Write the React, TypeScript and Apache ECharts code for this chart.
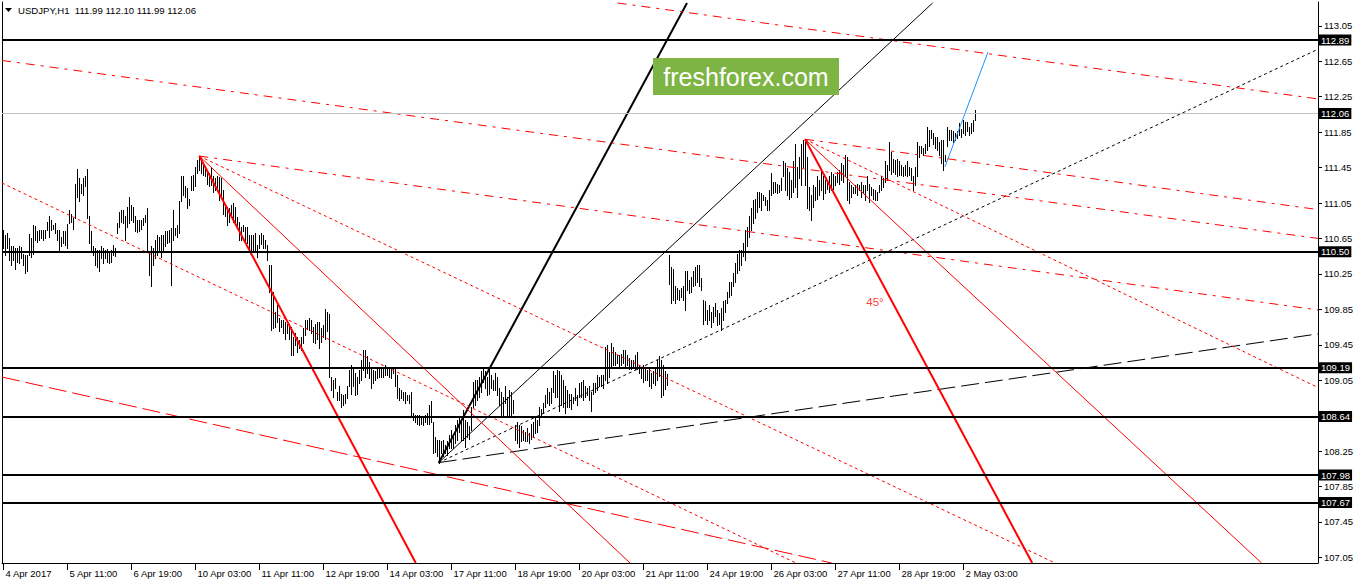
import React, { useEffect, useRef } from "react";
import * as echarts from "echarts";

const FONT = '"Liberation Sans", Arial, sans-serif';

// ---- time axis (bar index -> label) ----
const timeTickBars = [0, 32, 64, 96, 128, 160, 192, 224, 256, 288, 320, 352, 384, 416, 448, 480];
const timeTickLabels = [
  "4 Apr 2017", "5 Apr 11:00", "6 Apr 19:00", "10 Apr 03:00", "11 Apr 11:00", "12 Apr 19:00",
  "14 Apr 03:00", "17 Apr 11:00", "18 Apr 19:00", "20 Apr 03:00", "21 Apr 11:00", "24 Apr 19:00",
  "26 Apr 03:00", "27 Apr 11:00", "28 Apr 19:00", "2 May 03:00",
];

// ---- price axis ----
const priceTicks = [113.05, 112.65, 112.25, 111.85, 111.45, 111.05, 110.65, 110.25, 109.85, 109.45, 109.05, 108.25, 107.85, 107.45, 107.05];
const priceMin = 106.987;
const priceMax = 113.319;
const barMin = -0.75;
const barMax = 657.25;

// ---- horizontal levels ----
const levelPrices = [112.89, 110.5, 109.19, 108.64, 107.98, 107.67];
const bidPrice = 112.06;

// ---- USDJPY H1 bars (high / low), bar index = hour count from 4 Apr 03:00 ----
const highs = [
  110.75, 110.69, 110.71, 110.65, 110.56, 110.56, 110.54, 110.54, 110.56, 110.55,
  110.48, 110.46, 110.46, 110.70, 110.65, 110.80, 110.79, 110.73, 110.75, 110.74,
  110.75, 110.75, 110.84, 110.90, 110.86, 110.80, 110.82, 110.75, 110.75, 110.67,
  110.73, 110.73, 110.81, 110.97, 110.93, 110.88, 111.27, 111.43, 111.33, 111.27,
  111.33, 111.35, 111.43, 110.90, 110.73, 110.56, 110.54, 110.52, 110.52, 110.56,
  110.54, 110.52, 110.53, 110.50, 110.52, 110.58, 110.54, 110.82, 110.95, 110.97,
  110.97, 110.90, 111.01, 111.12, 111.03, 111.01, 110.90, 110.86, 110.86, 110.86,
  110.88, 110.91, 110.99, 110.50, 110.56, 110.54, 110.63, 110.69, 110.67, 110.69,
  110.69, 110.73, 110.73, 110.75, 110.77, 110.97, 110.77, 110.80, 111.07, 111.35,
  111.36, 111.24, 111.22, 111.10, 111.35, 111.37, 111.46, 111.54, 111.58, 111.55,
  111.50, 111.47, 111.42, 111.39, 111.44, 111.35, 111.33, 111.35, 111.34, 111.33,
  111.20, 111.03, 111.01, 110.99, 111.03, 111.05, 111.01, 110.89, 110.84, 110.78,
  110.80, 110.78, 110.78, 110.69, 110.69, 110.69, 110.71, 110.58, 110.69, 110.71,
  110.69, 110.63, 110.58, 110.35, 110.35, 110.05, 109.82, 109.90, 109.75, 109.73,
  109.73, 109.71, 109.69, 109.67, 109.65, 109.54, 109.58, 109.54, 109.50, 109.54,
  109.64, 109.73, 109.73, 109.75, 109.73, 109.65, 109.69, 109.71, 109.71, 109.64,
  109.67, 109.85, 109.82, 109.80, 109.09, 109.05, 109.07, 108.92, 108.98, 108.90,
  108.88, 108.90, 108.98, 109.17, 109.22, 109.18, 109.13, 109.09, 109.17, 109.28,
  109.39, 109.39, 109.32, 109.26, 109.20, 109.17, 109.15, 109.18, 109.18, 109.20,
  109.18, 109.22, 109.18, 109.20, 109.18, 109.20, 109.18, 109.11, 108.96, 108.94,
  108.92, 108.92, 108.88, 108.88, 108.92, 108.68, 108.66, 108.66, 108.66, 108.64,
  108.64, 108.66, 108.68, 108.77, 108.81, 108.58, 108.41, 108.38, 108.38, 108.36,
  108.38, 108.32, 108.36, 108.43, 108.49, 108.41, 108.54, 108.60, 108.64, 108.58,
  108.71, 108.60, 108.58, 108.53, 108.75, 109.03, 109.05, 109.05, 109.09, 109.15,
  109.20, 109.15, 109.09, 109.17, 109.11, 109.05, 109.13, 109.09, 108.96, 108.92,
  108.86, 108.98, 108.86, 108.94, 108.92, 108.83, 108.54, 108.58, 108.54, 108.53,
  108.49, 108.47, 108.51, 108.45, 108.56, 108.58, 108.64, 108.60, 108.75, 108.73,
  108.79, 108.88, 108.96, 108.92, 108.96, 109.15, 109.11, 109.17, 109.15, 109.11,
  109.05, 108.98, 108.94, 108.90, 108.90, 108.86, 108.96, 108.88, 109.02, 109.03,
  109.05, 108.98, 108.96, 108.98, 108.92, 109.02, 109.02, 109.11, 109.09, 109.11,
  109.11, 109.43, 109.45, 109.37, 109.47, 109.43, 109.37, 109.34, 109.34, 109.35,
  109.39, 109.39, 109.34, 109.30, 109.28, 109.28, 109.34, 109.37, 109.22, 109.20,
  109.22, 109.20, 109.17, 109.18, 109.13, 109.15, 109.20, 109.28, 109.32, 109.28,
  109.22, 109.15, 109.12, 110.46, 110.33, 110.31, 110.11, 110.09, 110.07, 110.09,
  110.11, 110.28, 110.28, 110.18, 110.22, 110.28, 110.33, 110.35, 110.35, 110.20,
  109.96, 109.94, 109.84, 109.90, 109.82, 109.88, 109.92, 109.84, 109.81, 109.86,
  109.94, 109.96, 110.05, 110.16, 110.16, 110.26, 110.37, 110.48, 110.52, 110.52,
  110.60, 110.75, 110.78, 110.90, 110.99, 111.08, 111.10, 111.18, 111.17, 111.16,
  111.14, 111.12, 111.08, 111.20, 111.39, 111.29, 111.29, 111.27, 111.25, 111.33,
  111.52, 111.50, 111.44, 111.40, 111.31, 111.52, 111.72, 111.46, 111.57, 111.72,
  111.76, 111.77, 111.57, 111.23, 111.14, 111.25, 111.23, 111.35, 111.31, 111.42,
  111.36, 111.31, 111.31, 111.36, 111.40, 111.38, 111.36, 111.40, 111.42, 111.50,
  111.48, 111.59, 111.57, 111.29, 111.25, 111.23, 111.25, 111.27, 111.25, 111.29,
  111.25, 111.25, 111.35, 111.27, 111.23, 111.21, 111.20, 111.18, 111.25, 111.35,
  111.33, 111.52, 111.48, 111.74, 111.63, 111.55, 111.54, 111.55, 111.52, 111.48,
  111.46, 111.48, 111.52, 111.46, 111.44, 111.36, 111.46, 111.74, 111.69, 111.69,
  111.67, 111.72, 111.91, 111.87, 111.87, 111.84, 111.80, 111.80, 111.74, 111.76,
  111.76, 111.59, 111.91, 111.87, 111.87, 111.86, 111.84, 111.86, 111.95, 111.89,
  111.99, 111.97, 111.97, 111.91, 111.95, 111.99, 112.10,
];
const lows = [
  110.54, 110.46, 110.54, 110.41, 110.35, 110.41, 110.31, 110.39, 110.37, 110.43,
  110.35, 110.26, 110.28, 110.46, 110.44, 110.48, 110.63, 110.61, 110.63, 110.65,
  110.63, 110.65, 110.75, 110.67, 110.75, 110.76, 110.71, 110.63, 110.52, 110.56,
  110.60, 110.58, 110.54, 110.82, 110.84, 110.76, 110.88, 111.12, 111.07, 111.16,
  111.14, 111.24, 110.88, 110.60, 110.52, 110.46, 110.35, 110.33, 110.28, 110.43,
  110.37, 110.43, 110.39, 110.37, 110.39, 110.46, 110.45, 110.71, 110.78, 110.84,
  110.82, 110.63, 110.78, 110.82, 110.86, 110.84, 110.73, 110.72, 110.73, 110.76,
  110.80, 110.84, 110.50, 110.24, 110.11, 110.35, 110.43, 110.46, 110.50, 110.44,
  110.52, 110.56, 110.60, 110.61, 110.12, 110.63, 110.69, 110.67, 110.71, 111.07,
  111.14, 111.12, 110.99, 111.03, 111.20, 111.20, 111.24, 111.39, 111.42, 111.39,
  111.37, 111.35, 111.27, 111.24, 111.25, 111.18, 111.20, 111.22, 111.08, 111.14,
  110.93, 110.90, 110.80, 110.84, 110.90, 110.84, 110.82, 110.80, 110.63, 110.63,
  110.73, 110.61, 110.60, 110.54, 110.50, 110.52, 110.52, 110.44, 110.54, 110.59,
  110.54, 110.54, 110.41, 110.05, 109.62, 109.64, 109.65, 109.71, 109.60, 109.65,
  109.58, 109.52, 109.58, 109.52, 109.33, 109.33, 109.45, 109.37, 109.41, 109.39,
  109.47, 109.56, 109.63, 109.62, 109.58, 109.48, 109.47, 109.52, 109.41, 109.48,
  109.54, 109.52, 109.60, 109.09, 108.94, 108.86, 108.96, 108.83, 108.83, 108.75,
  108.77, 108.79, 108.85, 108.98, 108.90, 108.98, 108.88, 108.90, 109.02, 109.05,
  109.17, 109.09, 109.13, 109.07, 108.96, 109.02, 109.05, 109.07, 109.09, 109.09,
  109.09, 109.11, 109.11, 109.09, 109.07, 109.13, 108.98, 108.85, 108.83, 108.85,
  108.83, 108.79, 108.83, 108.79, 108.66, 108.60, 108.58, 108.56, 108.55, 108.56,
  108.55, 108.58, 108.56, 108.56, 108.58, 108.23, 108.24, 108.19, 108.12, 108.23,
  108.19, 108.23, 108.21, 108.28, 108.28, 108.28, 108.34, 108.38, 108.47, 108.38,
  108.38, 108.30, 108.41, 108.39, 108.49, 108.75, 108.77, 108.83, 108.86, 108.92,
  109.03, 108.96, 108.88, 108.90, 108.96, 108.94, 108.94, 108.88, 108.77, 108.66,
  108.66, 108.79, 108.66, 108.64, 108.66, 108.68, 108.38, 108.34, 108.30, 108.36,
  108.38, 108.36, 108.36, 108.34, 108.39, 108.41, 108.45, 108.47, 108.54, 108.64,
  108.68, 108.75, 108.79, 108.77, 108.79, 108.92, 108.86, 108.86, 108.70, 108.77,
  108.75, 108.68, 108.75, 108.75, 108.73, 108.79, 108.83, 108.77, 108.86, 108.86,
  108.83, 108.86, 108.88, 108.83, 108.70, 108.90, 108.92, 108.94, 108.98, 108.98,
  108.96, 109.05, 109.02, 109.09, 109.20, 109.22, 109.22, 109.24, 109.20, 109.22,
  109.24, 109.20, 109.22, 109.18, 109.18, 109.20, 109.18, 109.18, 109.13, 109.07,
  109.03, 109.05, 109.05, 108.98, 108.96, 109.02, 109.00, 109.05, 109.10, 108.86,
  108.88, 108.95, 109.00, 110.14, 109.92, 109.96, 109.92, 109.97, 109.96, 109.99,
  109.96, 109.84, 110.07, 110.03, 110.05, 110.11, 110.12, 110.16, 110.11, 110.07,
  109.69, 109.73, 109.69, 109.73, 109.65, 109.71, 109.77, 109.67, 109.69, 109.62,
  109.73, 109.82, 109.92, 109.99, 110.01, 110.11, 110.16, 110.26, 110.29, 110.35,
  110.45, 110.41, 110.56, 110.67, 110.75, 110.82, 110.88, 110.95, 111.01, 110.97,
  111.08, 111.03, 110.97, 110.97, 111.14, 111.16, 111.18, 111.16, 111.18, 111.20,
  111.35, 111.20, 111.14, 111.10, 111.12, 111.18, 111.23, 111.12, 111.33, 111.25,
  111.46, 111.25, 110.99, 110.97, 110.86, 111.01, 111.08, 111.10, 111.14, 111.20,
  111.10, 111.16, 111.21, 111.18, 111.20, 111.21, 111.25, 111.29, 111.27, 111.31,
  111.29, 111.35, 111.08, 111.05, 111.12, 111.16, 111.16, 111.14, 111.20, 111.12,
  111.18, 111.08, 111.20, 111.06, 111.14, 111.10, 111.08, 111.08, 111.18, 111.20,
  111.23, 111.29, 111.31, 111.42, 111.38, 111.40, 111.38, 111.35, 111.37, 111.37,
  111.35, 111.37, 111.35, 111.37, 111.31, 111.20, 111.25, 111.35, 111.57, 111.61,
  111.59, 111.61, 111.65, 111.69, 111.78, 111.72, 111.67, 111.65, 111.59, 111.50,
  111.42, 111.52, 111.69, 111.76, 111.76, 111.74, 111.76, 111.78, 111.82, 111.80,
  111.84, 111.82, 111.86, 111.82, 111.84, 111.86, 111.99,
];

// ---- trend lines: [bar, price] end points ----
const fanLow: [number, number] = [217.6, 108.12];
const peakApr10: [number, number] = [97.9, 111.58];
const peakApr26: [number, number] = [400.75, 111.77];

const blackThick = [fanLow, [341.75, 113.308]];
const blackThin = [fanLow, [464.55, 113.308]];
const blackDotted = [fanLow, [657.25, 112.786]];
const blackDashed = [fanLow, [657.25, 109.573]];
const redThickApr10 = [peakApr10, [206.15, 106.987]];
const redThinApr10 = [peakApr10, [313.25, 106.987]];
const redDotApr10 = [peakApr10, [525.75, 106.987]];
const redDashDotApr10 = [peakApr10, [657.25, 109.843]];
const redThickApr26 = [peakApr26, [514.35, 106.987]];
const redThinApr26 = [peakApr26, [629.05, 106.987]];
const redDotApr26 = [peakApr26, [657.25, 108.967]];
const redDashDotApr26 = [peakApr26, [657.25, 110.976]];
const redDotLeft = [[-0.75, 111.276], [396.25, 106.987]];
const redDashDotUpper = [[-0.75, 112.659], [657.25, 110.651]];
const redDashDotTop = [[307.05, 113.308], [657.25, 112.225]];
const redDashLower = [[-0.75, 109.086], [414.1, 106.987]];
const blueLine = [[470.75, 111.46], [492.25, 112.755]];
const angleLabel: [number, number] = [435.75, 109.93];

const DOT = [3, 3];
const DASH = [18, 6];
const DASHDOT = [9, 6, 3, 6];

export default function App() {
  const ref = useRef<HTMLDivElement>(null);

  useEffect(() => {
    if (!ref.current) return;
    const chart = echarts.init(ref.current, undefined, { renderer: "svg" });

    const barData = highs.map((h, i) => [i, h, lows[i]]);

    const seg = (data: any, color: string, width: number, type: any, z = 3) => ({
      type: "line",
      data,
      showSymbol: false,
      symbol: "none",
      silent: true,
      clip: true,
      z,
      lineStyle: { color, width, type },
      xAxisIndex: 0,
      yAxisIndex: 0,
    });

    const RED = "#ff0000";
    const AX_FONT = 9.5;

    const option: any = {
      animation: false,
      backgroundColor: "#ffffff",
      grid: { left: 2, right: 40, top: 2, bottom: 21, containLabel: false },
      xAxis: {
        type: "value",
        min: barMin,
        max: barMax,
        position: "bottom",
        axisLine: { show: true, onZero: false, lineStyle: { color: "#000", width: 1 } },
        axisTick: { show: true, customValues: timeTickBars, length: 7, lineStyle: { color: "#000" } },
        axisLabel: {
          show: true,
          customValues: timeTickBars,
          formatter: (v: number) => {
            const k = timeTickBars.indexOf(Math.round(v));
            return k >= 0 ? timeTickLabels[k] : "";
          },
          align: "left",
          margin: 5,
          padding: [0, 0, 0, 2],
          color: "#000",
          fontFamily: FONT,
          fontSize: AX_FONT,
        },
        splitLine: { show: false },
      },
      yAxis: [
        {
          type: "value",
          position: "right",
          min: priceMin,
          max: priceMax,
          axisLine: { show: true, onZero: false, lineStyle: { color: "#000", width: 1 } },
          axisTick: { show: true, customValues: priceTicks, length: 4, lineStyle: { color: "#000" } },
          axisLabel: {
            show: true,
            customValues: priceTicks,
            formatter: (v: number) => v.toFixed(2),
            margin: 6,
            color: "#000",
            fontFamily: FONT,
            fontSize: AX_FONT,
          },
          splitLine: { show: false },
        },
        {
          type: "value",
          position: "left",
          min: priceMin,
          max: priceMax,
          axisLine: { show: true, onZero: false, lineStyle: { color: "#000", width: 1 } },
          axisTick: { show: false },
          axisLabel: { show: false },
          splitLine: { show: false },
        },
      ],
      series: [
        {
          type: "custom",
          data: barData,
          z: 2,
          silent: true,
          encode: { x: 0, y: [1, 2] },
          renderItem: (params: any, api: any) => {
            const i = api.value(0);
            const top = api.coord([i, api.value(1)]);
            const bot = api.coord([i, api.value(2)]);
            const x = Math.floor(top[0]) + 0.5;
            return {
              type: "line",
              shape: { x1: x, y1: Math.round(top[1]), x2: x, y2: Math.round(bot[1]) + 1 },
              style: { stroke: "#000", lineWidth: 1 },
            };
          },
        },
        {
          type: "line",
          data: [],
          silent: true,
          z: 4,
          markLine: {
            silent: true,
            symbol: ["none", "none"],
            animation: false,
            data: [
              {
                yAxis: bidPrice,
                lineStyle: { color: "#c0c0c0", width: 1, type: "solid" },
                label: {
                  show: true, position: "end", distance: 1, formatter: bidPrice.toFixed(2),
                  backgroundColor: "#000", color: "#fff", padding: [1, 2, 0, 2],
                  fontFamily: FONT, fontSize: AX_FONT,
                },
              },
              ...levelPrices.map((p) => ({
                yAxis: p,
                lineStyle: { color: "#000", width: 2, type: "solid" },
                label: {
                  show: true, position: "end", distance: 1, formatter: p.toFixed(2),
                  backgroundColor: "#000", color: "#fff", padding: [1, 2, 0, 2],
                  fontFamily: FONT, fontSize: AX_FONT,
                },
              })),
            ],
          },
        },
        seg(blackThick, "#000", 2, "solid"),
        seg(blackThin, "#000", 1, "solid"),
        seg(blackDotted, "#000", 1, DOT),
        seg(blackDashed, "#000", 1, DASH),
        seg(redThickApr10, RED, 2, "solid"),
        seg(redThinApr10, RED, 1, "solid"),
        seg(redDotApr10, RED, 1, DOT),
        seg(redDashDotApr10, RED, 1, DASHDOT),
        seg(redThickApr26, RED, 2, "solid"),
        seg(redThinApr26, RED, 1, "solid"),
        seg(redDotApr26, RED, 1, DOT),
        seg(redDashDotApr26, RED, 1, DASHDOT),
        seg(redDotLeft, RED, 1, DOT),
        seg(redDashDotUpper, RED, 1, DASHDOT),
        seg(redDashDotTop, RED, 1, DASHDOT),
        seg(redDashLower, RED, 1, DASH),
        seg(blueLine, "#1e90ff", 1, "solid"),
        {
          type: "scatter",
          data: [angleLabel],
          symbolSize: 1,
          silent: true,
          itemStyle: { color: "rgba(0,0,0,0)" },
          label: {
            show: true, position: "inside", formatter: "45°", color: RED,
            fontFamily: FONT, fontSize: 11.5,
          },
          z: 5,
        },
      ],
      graphic: [
        {
          type: "polygon",
          shape: { points: [[5, 8], [12, 8], [8.5, 12]] },
          style: { fill: "#000" },
          z: 10,
        },
        {
          type: "text",
          x: 18,
          y: 10.5,
          style: {
            text: "USDJPY,H1\u00a0\u00a0111.99 112.10 111.99 112.06",
            fill: "#000",
            font: `9.6px ${FONT}`,
            verticalAlign: "middle",
          },
          z: 10,
        },
        {
          type: "rect",
          shape: { x: 653, y: 58, width: 186, height: 37 },
          style: { fill: "#7db443" },
          z: 10,
        },
        {
          type: "text",
          x: 746,
          y: 76.5,
          style: {
            text: "freshforex.com",
            fill: "#fff",
            font: `25px ${FONT}`,
            align: "center",
            verticalAlign: "middle",
          },
          z: 11,
        },
      ],
    };

    chart.setOption(option);
    return () => chart.dispose();
  }, []);

  return (
    <div
      ref={ref}
      style={{ position: "fixed", left: 0, top: 0, width: 1358, height: 584, background: "#fff" }}
    />
  );
}
